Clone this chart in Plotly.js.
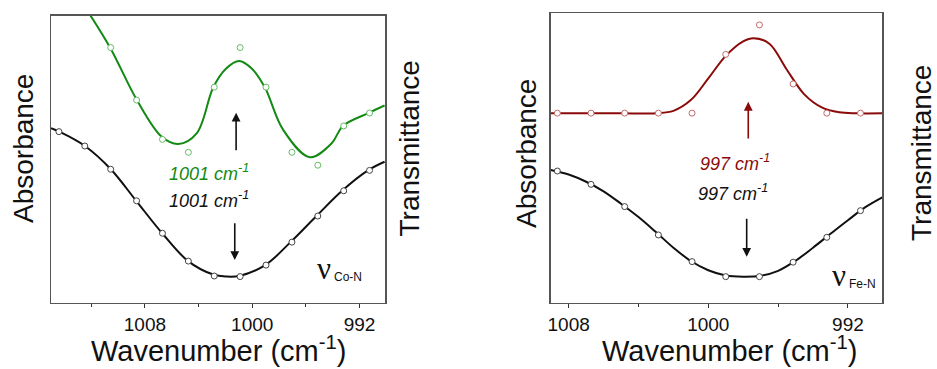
<!DOCTYPE html>
<html>
<head>
<meta charset="utf-8">
<script src="https://cdn.plot.ly/plotly-3.0.1.min.js"></script>
<style>
html,body{margin:0;padding:0;background:#fff;}
#chart{width:937px;height:369px;}
</style>
</head>
<body>
<div id="chart"></div>
<script>
// ---- Data ----
// Left panel (Co-N)
const wnGreen  = [1010.55, 1008.62, 1006.69, 1004.76, 1002.83, 1000.90, 998.97, 997.04, 995.11, 993.18, 991.25];
const absGreen = [88.9, 70.6, 56.9, 52.4, 75.1, 88.9, 75.1, 52.4, 47.9, 61.6, 66.1];
const wnBlackCo  = [1014.41, 1012.48, 1010.55, 1008.62, 1006.69, 1004.76, 1002.83, 1000.90, 998.97, 997.04, 995.11, 993.18, 991.25];
const absBlackCo = [59.6, 54.6, 46.5, 35.5, 24.2, 14.5, 9.3, 9.1, 13.1, 21.1, 30.2, 39.0, 46.1];
const fitGreenWn  = [1012.52, 1010.59, 1008.60, 1006.74, 1005.51, 1004.14, 1002.90, 1001.96, 1000.97, 1000.02, 999.06, 997.69, 995.71, 994.09, 993.23, 991.37, 990.13];
const fitGreenVal = [103.4, 88.85, 70.63, 57.8, 55.3, 59.0, 75.05, 81.5, 84.2, 81.5, 75.05, 60.2, 50.7, 55.5, 61.6, 66.0, 68.7];
const fitBlackCoWn  = [1015.0, 1014.38, 1012.47, 1010.54, 1008.65, 1006.71, 1004.78, 1002.90, 1001.95, 1000.97, 999.03, 997.14, 995.21, 993.30, 991.37, 990.13];
const fitBlackCoVal = [60.8, 59.6, 54.6, 46.5, 35.5, 24.2, 14.5, 9.8, 9.1, 9.3, 13.1, 21.1, 30.2, 39.0, 46.1, 49.1];

// Right panel (Fe-N)
const wnRed  = [1008.65, 1006.72, 1004.79, 1002.86, 1000.93, 999.00, 997.07, 995.14, 993.21, 991.28];
const absRed = [65.5, 65.5, 65.5, 65.5, 65.5, 85.8, 96.0, 75.6, 65.5, 65.5];
const wnBlackFe  = [1008.65, 1006.72, 1004.79, 1002.86, 1000.93, 999.00, 997.07, 995.14, 993.21, 991.28];
const absBlackFe = [45.5, 40.9, 33.2, 23.4, 14.2, 9.0, 9.0, 14.0, 22.6, 31.8];
const fitRedWn  = [1009.03, 1007.0, 1005.0, 1003.0, 1002.0, 1001.0, 1000.0, 999.0, 998.0, 997.4, 996.5, 995.5, 994.5, 993.5, 992.5, 991.5, 990.03];
const fitRedVal = [65.45, 65.45, 65.45, 65.5, 66.3, 70.0, 77.5, 85.3, 90.3, 91.4, 89.5, 80.5, 72.0, 67.5, 65.8, 65.45, 65.45];
const fitBlackFeWn  = [1009.03, 1008.0, 1007.0, 1006.0, 1005.0, 1004.0, 1003.0, 1002.0, 1001.0, 1000.0, 999.0, 998.0, 997.0, 996.0, 995.0, 994.0, 993.0, 992.0, 991.0, 990.03];
const fitBlackFeVal = [45.85, 44.3, 41.8, 38.5, 34.2, 29.6, 24.4, 19.0, 14.4, 11.2, 9.4, 9.0, 9.3, 11.0, 14.5, 19.0, 23.8, 28.5, 33.0, 36.4];

const majorTicks = [1008, 1000, 992];
const tickText = ['1008', '1000', '992'];
const peakCo = '1001 cm<sup>-1</sup>';
const peakFe = '997 cm<sup>-1</sup>';

// ---- Styles ----
const FONT = 'Liberation Sans, Arial, sans-serif';
const SERIF = 'Liberation Serif, Times New Roman, serif';
const GREEN = '#138a13', GREEN_M = '#66bb66';
const RED = '#8b0a0a', RED_M = '#c46a6a';
const BLACK = '#111111', BLACK_M = '#444444';
const FRAME = '#555555';

function fitLine(x, y, color, xa, ya) {
  return {x: x, y: y, xaxis: xa, yaxis: ya, mode: 'lines', type: 'scatter',
    line: {color: color, width: 2, shape: 'spline', smoothing: 1}, hoverinfo: 'skip'};
}
function pts(x, y, color, xa, ya) {
  return {x: x, y: y, xaxis: xa, yaxis: ya, mode: 'markers', type: 'scatter',
    marker: {symbol: 'circle', size: 6, color: '#ffffff', line: {color: color, width: 1}}, cliponaxis: false};
}

const traces = [
  fitLine(fitBlackCoWn, fitBlackCoVal, BLACK, 'x', 'y'),
  fitLine(fitGreenWn, fitGreenVal, GREEN, 'x', 'y'),
  pts(wnBlackCo, absBlackCo, BLACK_M, 'x', 'y'),
  pts(wnGreen, absGreen, GREEN_M, 'x', 'y'),
  fitLine(fitBlackFeWn, fitBlackFeVal, BLACK, 'x2', 'y2'),
  fitLine(fitRedWn, fitRedVal, RED, 'x2', 'y2'),
  pts(wnBlackFe, absBlackFe, BLACK_M, 'x2', 'y2'),
  pts(wnRed, absRed, RED_M, 'x2', 'y2')
];

const W = 937, H = 369;
const px = v => v / W, py = v => 1 - v / H;

function xAxisBottom(domain, range, anchor) {
  return {domain: domain, range: range, anchor: anchor, showgrid: false, zeroline: false,
    showline: true, mirror: true, linecolor: FRAME, linewidth: 1.5,
    tickmode: 'array', tickvals: majorTicks, ticktext: tickText,
    ticks: 'outside', ticklen: 4, tickwidth: 1, tickcolor: '#333',
    minor: {tickmode: 'linear', tick0: 1000, dtick: 4, ticks: 'outside', ticklen: 3, tickwidth: 1, tickcolor: '#333'},
    tickfont: {family: FONT, size: 19, color: BLACK}, fixedrange: true};
}
function xAxisTop(range, overlay, anchor) {
  return {range: range, overlaying: overlay, anchor: anchor, side: 'top', showgrid: false, zeroline: false,
    showline: false, showticklabels: false,
    tickmode: 'array', tickvals: majorTicks,
    ticks: 'inside', ticklen: 4, tickwidth: 1, tickcolor: '#333',
    minor: {tickmode: 'linear', tick0: 1000, dtick: 4, ticks: 'inside', ticklen: 3, tickwidth: 1, tickcolor: '#333'},
    fixedrange: true};
}
function yAxis(domain, anchor) {
  return {domain: domain, range: [0, 100], anchor: anchor, showgrid: false, zeroline: false,
    showline: true, mirror: true, linecolor: FRAME, linewidth: 1.5,
    ticks: '', showticklabels: false, fixedrange: true};
}

const leftRange = [1015.0, 990.1];
const rightRange = [1009.03, 990.03];

function arrow(xref, yref, x, yTail, yHead, color) {
  return {xref: xref, yref: yref, axref: xref, ayref: yref, x: x, y: yHead, ax: x, ay: yTail,
    text: '', showarrow: true, arrowhead: 2, arrowsize: 1.1, arrowwidth: 1.6, arrowcolor: color, standoff: 0};
}
function label(xref, yref, x, y, text, color) {
  return {xref: xref, yref: yref, x: x, y: y, text: text, showarrow: false,
    xanchor: 'center', yanchor: 'middle',
    font: {family: FONT, size: 18, color: color, style: 'italic'}};
}
function paperText(x, y, text, size, family, angle, xanchor) {
  return {xref: 'paper', yref: 'paper', x: px(x), y: py(y), text: text, showarrow: false,
    xanchor: xanchor || 'center', yanchor: 'middle', textangle: angle || 0,
    font: {family: family, size: size, color: BLACK}};
}

const annotations = [
  // left panel
  arrow('x', 'y', 1001.2, 52.6, 66.2, BLACK),
  arrow('x', 'y', 1001.3, 28.2, 14.9, BLACK),
  label('x', 'y', 1003.2, 45.5, peakCo, GREEN),
  label('x', 'y', 1003.2, 35.8, peakCo, BLACK),
  paperText(315, 268, 'ν', 31, SERIF, 0, 'left'),
  paperText(332, 277, 'Co-N', 12, FONT, 0, 'left'),
  paperText(23, 149, 'Absorbance', 28, FONT, -90),
  paperText(408.5, 149, 'Transmittance', 28, FONT, -90),
  paperText(218.5, 349, 'Wavenumber (cm<sup>-1</sup>)', 29, FONT, 0),
  // right panel
  arrow('x2', 'y2', 997.71, 56.2, 69.4, RED),
  arrow('x2', 'y2', 997.80, 29.5, 15.9, BLACK),
  label('x2', 'y2', 998.47, 48.6, peakFe, RED),
  label('x2', 'y2', 998.59, 38.2, peakFe, BLACK),
  paperText(830, 275, 'ν', 31, SERIF, 0, 'left'),
  paperText(847, 284, 'Fe-N', 12, FONT, 0, 'left'),
  paperText(526, 154, 'Absorbance', 28, FONT, -90),
  paperText(922, 153, 'Transmittance', 28, FONT, -90),
  paperText(729, 349, 'Wavenumber (cm<sup>-1</sup>)', 29, FONT, 0)
];

const layout = {
  width: W, height: H,
  margin: {l: 0, r: 0, t: 0, b: 0},
  paper_bgcolor: '#ffffff', plot_bgcolor: '#ffffff',
  showlegend: false,
  font: {family: FONT, color: BLACK},
  xaxis: xAxisBottom([px(51), px(385)], leftRange, 'y'),
  yaxis: yAxis([1 - 302.7 / H, 1 - 15.7 / H], 'x'),
  xaxis2: xAxisBottom([px(550.7), px(882.3)], rightRange, 'y2'),
  yaxis2: yAxis([1 - 302.7 / H, 1 - 13.3 / H], 'x2'),
  xaxis3: xAxisTop(leftRange, 'x', 'y'),
  xaxis4: xAxisTop(rightRange, 'x2', 'y2'),
  annotations: annotations
};

Plotly.newPlot('chart', traces, layout, {staticPlot: true, displayModeBar: false});
</script>
</body>
</html>
